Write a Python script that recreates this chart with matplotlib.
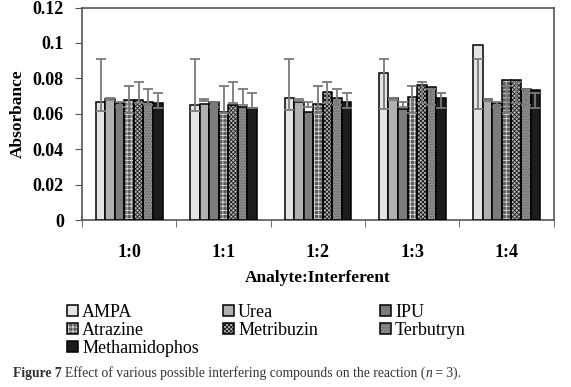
import numpy as np
import matplotlib
matplotlib.use('Agg')
from matplotlib import pyplot as plt
from matplotlib.patches import Patch

# ---数据---
groups = ['1:0', '1:1', '1:2', '1:3', '1:4']
series = ['AMPA', 'Urea', 'IPU', 'Atrazine', 'Metribuzin', 'Terbutryn', 'Methamidophos']

absorb = {
    'AMPA':          [0.0668, 0.0647, 0.0688, 0.0831, 0.0991],
    'Urea':          [0.0683, 0.0656, 0.0664, 0.0687, 0.0681],
    'IPU':           [0.0662, 0.0666, 0.0608, 0.0626, 0.0658],
    'Atrazine':      [0.0677, 0.0608, 0.0656, 0.0696, 0.0790],
    'Metribuzin':    [0.0677, 0.0650, 0.0724, 0.0762, 0.0790],
    'Terbutryn':     [0.0666, 0.0639, 0.0687, 0.0752, 0.0741],
    'Methamidophos': [0.0658, 0.0632, 0.0666, 0.0688, 0.0732],
}
# 误差线上下端(绝对值)
err_hi = {
    'AMPA':          [0.0910, 0.0910, 0.0910, 0.0910, 0.0910],
    'Urea':          [0.0688, 0.0686, 0.0685, 0.0690, 0.0686],
    'IPU':           [0.0664, 0.0668, 0.0664, 0.0664, 0.0664],
    'Atrazine':      [0.0754, 0.0756, 0.0754, 0.0756, 0.0756],
    'Metribuzin':    [0.0779, 0.0779, 0.0779, 0.0779, 0.0779],
    'Terbutryn':     [0.0741, 0.0741, 0.0741, 0.0741, 0.0741],
    'Methamidophos': [0.0715, 0.0715, 0.0715, 0.0715, 0.0715],
}
err_lo = {
    'AMPA':          [0.0618, 0.0618, 0.0622, 0.0625, 0.0625],
    'Urea':          [0.0676, 0.0672, 0.0674, 0.0676, 0.0674],
    'IPU':           [0.0640, 0.0640, 0.0640, 0.0640, 0.0640],
    'Atrazine':      [0.0605, 0.0605, 0.0605, 0.0605, 0.0605],
    'Metribuzin':    [0.0660, 0.0660, 0.0660, 0.0660, 0.0660],
    'Terbutryn':     [0.0649, 0.0649, 0.0649, 0.0649, 0.0649],
    'Methamidophos': [0.0634, 0.0634, 0.0634, 0.0634, 0.0634],
}

# ---样式---
face = ['#e4e4e4', '#b0b0b0', '#7c7c7c', '#5c5c5c', '#b8b8b8', '#8c8c8c', '#1c1c1c']
hatch = [None, None, None, '++++', 'xxxxxxxx', '......', None]
hatch_col = [None, None, None, '#d8d8d8', '#1a1a1a', '#606060', None]

plt.rcParams['font.family'] = ['Liberation Serif', 'DejaVu Serif']
plt.rcParams['hatch.linewidth'] = 0.6

fig = plt.figure(figsize=(5.71, 3.87), dpi=100)
ax = fig.add_axes([0.1436, 0.4315, 0.8264, 0.5491])

x = np.arange(len(groups))
w = 0.101
handles = []
for i, s in enumerate(series):
    xs = x + (i - 3) * w
    if hatch[i]:
        ax.bar(xs, absorb[s], w, color=face[i], edgecolor=hatch_col[i], hatch=hatch[i], linewidth=0, zorder=2)
        ax.bar(xs, absorb[s], w, fill=False, edgecolor='black', linewidth=1.1, zorder=3)
        h = Patch(facecolor=face[i], edgecolor=hatch_col[i], hatch=hatch[i], linewidth=0)
        h = (h, Patch(fill=False, edgecolor='black', linewidth=1.1))
    else:
        ax.bar(xs, absorb[s], w, color=face[i], edgecolor='black', linewidth=1.1, zorder=3)
        h = Patch(facecolor=face[i], edgecolor='black', linewidth=1.1)
    hi = np.array(err_hi[s])
    lo = np.array(err_lo[s])
    ax.errorbar(xs, (hi + lo) / 2, yerr=(hi - lo) / 2, fmt='none', ecolor='#7a7a7a',
                elinewidth=1.3, capsize=3.5, capthick=1.3, zorder=4)
    handles.append(h)

ax.set_xlim(-0.5, 4.5)
ax.set_ylim(0, 0.12)
ax.set_yticks([0, 0.02, 0.04, 0.06, 0.08, 0.1, 0.12])
ax.set_yticklabels(['0', '0.02', '0.04', '0.06', '0.08', '0.1', '0.12'])
ax.set_xticks(x)
ax.set_xticklabels(groups)
ax.set_xticks(np.arange(-0.5, 5, 1), minor=True)
ax.tick_params(axis='x', which='major', length=0, pad=17)
ax.tick_params(axis='x', which='minor', length=5, direction='out', color='#555555')
ax.tick_params(axis='y', length=5, direction='out', pad=8, color='#555555')
for lab in ax.get_xticklabels() + ax.get_yticklabels():
    lab.set_fontweight('bold')
    lab.set_fontsize(13)
for sp in ax.spines.values():
    sp.set_color('#555555')
    sp.set_linewidth(1.2)

ax.set_ylabel('Absorbance', fontsize=12.5, fontweight='bold', labelpad=5)
ax.set_xlabel('Analyte:Interferent', fontsize=12.5, fontweight='bold', labelpad=7)

# 图例: 三列分别放置
cols = [[0, 3, 6], [1, 4], [2, 5]]
col_x = [0.117, 0.390, 0.665]
for c, xx in zip(cols, col_x):
    lg = fig.legend([handles[k] for k in c], [series[k] for k in c],
                    loc='upper left', bbox_to_anchor=(xx, 0.215), frameon=False,
                    fontsize=13, handlelength=0.6, handleheight=0.6, handletextpad=0.25,
                    labelspacing=0.05, borderaxespad=0, borderpad=0)

# 图注
fig.canvas.draw()
r = fig.canvas.get_renderer()
cap_y = 0.025
fs = 9.8
t1 = fig.text(0.023, cap_y, 'Figure 7 ', fontsize=fs, fontweight='bold', color='#333333')
bb = t1.get_window_extent(r)
t2 = fig.text(bb.x1 / fig.bbox.width, cap_y, 'Effect of various possible interfering compounds on the reaction (',
              fontsize=fs, color='#333333')
bb = t2.get_window_extent(r)
t3 = fig.text(bb.x1 / fig.bbox.width, cap_y, 'n', fontsize=fs, style='italic', color='#333333')
bb = t3.get_window_extent(r)
fig.text(bb.x1 / fig.bbox.width, cap_y, ' = 3).', fontsize=fs, color='#333333')

fig.savefig('out.png', dpi=100)
